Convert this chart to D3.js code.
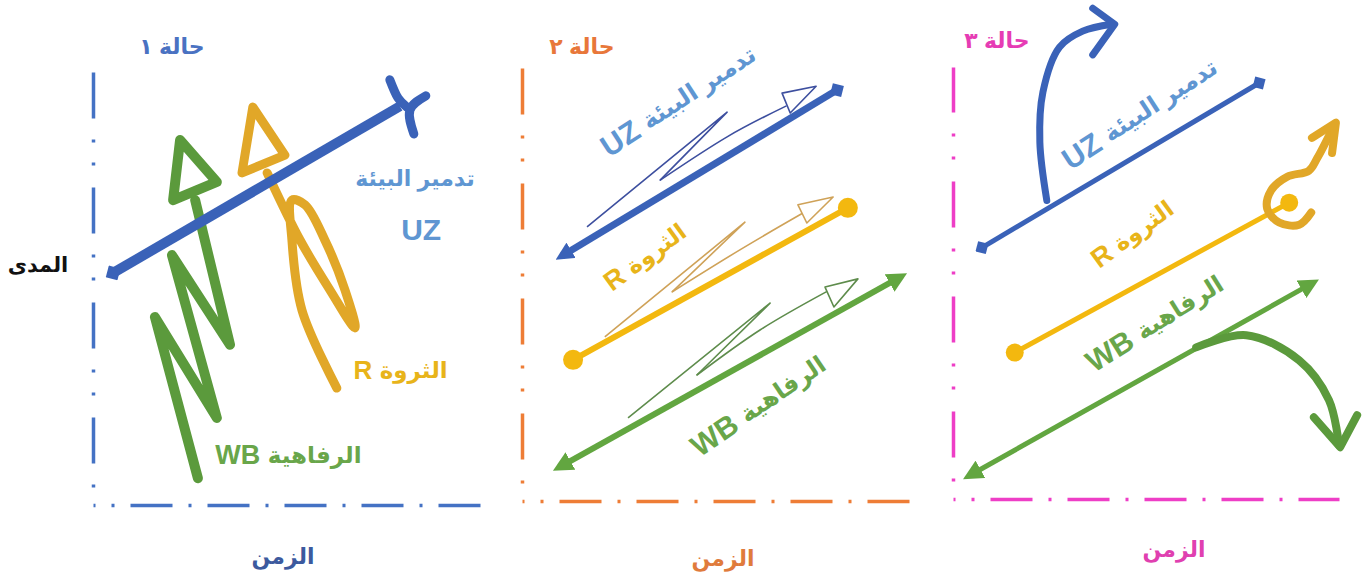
<!DOCTYPE html>
<html>
<head>
<meta charset="utf-8">
<script src="https://cdn.jsdelivr.net/npm/d3@7"></script>
<style>
  body { margin: 0; background: #fff; }
  svg { display: block; }
  text { font-family: "Liberation Sans", "DejaVu Sans", sans-serif; font-weight: bold; }
</style>
</head>
<body>
<div id="chart"></div>
<script>
const W = 1370, H = 578;

// ---- text ----
const panelTitles = ["حالة ١", "حالة ٢", "حالة ٣"];
const yAxisName = "المدى";
const xAxisName = "الزمن";
const names = { UZ: "تدمير البيئة", R: "الثروة", WB: "الرفاهية" };

// ---- data, in panel units (time 0-100 across, extent 0-100 up) ----
// case 1: erratic paths
const c1UZ = [[5.2, 53.6], [79.3, 92.1]];
const c1UZFork = [[[76.7, 98.2], [78.8, 94.0], [81.1, 91.9]], [[86.0, 94.5], [81.9, 91.2], [82.9, 85.7]]];
const c1WB = [[27.1, 6.2], [16.0, 43.4], [32.0, 20.1], [20.4, 57.7], [35.4, 37.0], [26.4, 70.4]];
const c1WBHead = [[22.5, 84.3], [20.7, 70.4], [32.0, 74.6]];
const c1R = [[63.0, 27.0], [54.0, 45.0], [51.4, 61.2], [51.4, 70.4], [54.8, 69.3], [59.9, 61.2],
             [65.1, 49.7], [67.7, 40.9], [61.2, 49.7], [53.5, 61.2], [45.0, 76.7]];
const c1RHead = [[41.3, 91.9], [38.5, 76.7], [49.6, 80.8]];

// case 2: straight trends with a wavering path along each
const c2UZ = [[10.3, 56.6], [81.4, 94.9]];
const c2UZZig = [[16.8, 63.3], [53.0, 89.8], [35.7, 74.1]];
const c2UZSwing = [[35.7, 74.1], [53.0, 84.1], [68.2, 91.2]];
const c2UZHead = [[67.2, 94.2], [76.0, 95.8], [69.3, 89.6]];
const c2R = [[13.2, 32.6], [84.2, 67.7]];
const c2RZig = [[21.4, 37.9], [57.6, 64.4], [38.8, 48.3]];
const c2RSwing = [[38.8, 48.3], [56.3, 58.0], [72.6, 66.5]];
const c2RHead = [[71.3, 68.4], [80.4, 70.2], [73.6, 64.2]];
const c2WB = [[9.8, 7.9], [97.7, 51.7]];
const c2WBZig = [[27.4, 19.2], [64.1, 45.7], [45.2, 29.1]];
const c2WBSwing = [[45.2, 29.1], [61.5, 39.5], [78.6, 48.3]];
const c2WBHead = [[78.3, 49.4], [86.8, 51.3], [80.6, 44.8]];

// case 3: trends with breaks
const c3UZ = [[7.5, 58.2], [79.3, 96.3]];
const c3UZTurn = [[24.3, 69.1], [22.5, 82.6], [23.3, 94.2], [27.6, 104.6], [33.6, 108.3], [41.1, 109.9]];
const c3UZChevron = [[36.2, 113.6], [41.9, 109.9], [36.2, 102.8]];
const c3R = [[16.0, 33.9], [87.1, 68.6]];
const c3RSwirl = [[92.8, 66.3], [89.7, 63.5], [84.5, 64.0], [81.4, 67.2], [82.4, 71.4], [86.6, 74.6],
                  [92.2, 76.0], [94.3, 78.8], [98.7, 86.4]];
const c3RChevron = [[93.0, 83.6], [99.2, 87.1], [98.2, 80.1]];
const c3WB = [[4.4, 5.5], [93.0, 49.9]];
const c3WBTurn = [[63.0, 35.1], [76.0, 37.9], [89.7, 32.1], [97.4, 22.9], [100.0, 12.5]];
const c3WBChevron = [[93.5, 18.9], [100.3, 12.0], [104.7, 19.4]];

// ---- layout ----
const frames = [
  { x0: 93,  y0: 505, w: 387, h: 433, axis: "#4472c4", title: "#4a72c2", time: "#3c5a9e", titleDx: 79,  timeDx: 190, timeY: 556 },
  { x0: 522, y0: 501, w: 387, h: 433, axis: "#ee7d36", title: "#e8773a", time: "#e07b3c", titleDx: 60,  timeDx: 201, timeY: 558 },
  { x0: 953, y0: 499, w: 386, h: 432, axis: "#ee3ec6", title: "#e63cb4", time: "#e040b0", titleDx: 44,  timeDx: 221, timeY: 549 }
];
const C = {
  blue: "#3a62b8", blueThin: "#3d4f9f", blueText: "#5f96d2",
  gold: "#e1a728", yellow: "#f3b80f", goldThin: "#cfa258", goldText: "#e8b41a",
  green: "#5b9a3c", green2: "#62a640", greenThin: "#5e8c4c", greenText: "#69a64a"
};

const svg = d3.select("#chart").append("svg").attr("width", W).attr("height", H);
const defs = svg.append("defs");

function marker(id, shape, color, size) {
  const m = defs.append("marker").attr("id", id)
    .attr("viewBox", "0 0 10 10")
    .attr("refX", shape === "arrow" ? 6 : 5).attr("refY", 5)
    .attr("markerWidth", size).attr("markerHeight", size)
    .attr("markerUnits", "userSpaceOnUse")
    .attr("orient", "auto-start-reverse");
  m.append("path")
    .attr("d", shape === "arrow" ? "M0,0L10,5L0,10z" : "M0,5L5,0L10,5L5,10z")
    .attr("fill", color);
}
marker("dia1", "diamond", C.blue, 17);
marker("arr2b", "arrow", C.blue, 18);
marker("dia2b", "diamond", C.blue, 16);
marker("arr2g", "arrow", C.green2, 20);
marker("dia3b", "diamond", C.blue, 15);
marker("arr3g", "arrow", C.green2, 20);

const scales = frames.map(f => ({
  x: d3.scaleLinear().domain([0, 100]).range([f.x0, f.x0 + f.w]),
  y: d3.scaleLinear().domain([0, 100]).range([f.y0, f.y0 - f.h])
}));

function draw(g, s, pts, o) {
  const gen = d3.line().x(d => s.x(d[0])).y(d => s.y(d[1]));
  if (o.curve) gen.curve(o.curve);
  return g.append("path").datum(pts)
    .attr("d", gen)
    .attr("fill", o.fill || "none")
    .attr("stroke", o.color)
    .attr("stroke-width", o.width)
    .attr("stroke-linecap", o.cap || "round")
    .attr("stroke-linejoin", "round")
    .attr("marker-start", o.start ? `url(#${o.start})` : null)
    .attr("marker-end", o.end ? `url(#${o.end})` : null);
}

function label(g, s, pos, parts, o) {
  const t = g.append("text")
    .attr("transform", `translate(${s.x(pos[0])},${s.y(pos[1])}) rotate(${o.rot || 0})`)
    .attr("text-anchor", "middle")
    .attr("dominant-baseline", "central")
    .attr("direction", "rtl")
    .attr("fill", o.color);
  parts.forEach(p => t.append("tspan").attr("font-size", p[1]).text(p[0]));
}

// ---- frames: axes and titles ----
frames.forEach((f, i) => {
  const s = scales[i];
  const g = svg.append("g");
  g.append("g").attr("transform", `translate(0,${f.y0})`)
    .call(d3.axisBottom(s.x).tickValues([]).tickSizeOuter(0))
    .call(a => a.select(".domain").attr("stroke", f.axis).attr("stroke-width", 3.5)
      .attr("stroke-dasharray", "3,16,42,16").attr("stroke-dashoffset", 59));
  g.append("g").attr("transform", `translate(${f.x0},0)`)
    .call(d3.axisLeft(s.y).tickValues([]).tickSizeOuter(0))
    .call(a => a.select(".domain").attr("stroke", f.axis).attr("stroke-width", 3.5)
      .attr("stroke-dasharray", "3,20,3,21,46,22").attr("stroke-dashoffset", 5));
  g.append("text").attr("x", f.x0 + f.titleDx).attr("y", i === 2 ? 40 : 46)
    .attr("text-anchor", "middle").attr("dominant-baseline", "central")
    .attr("direction", "rtl").attr("font-size", 22).attr("fill", f.title)
    .text(panelTitles[i]);
  g.append("text").attr("x", f.x0 + f.timeDx).attr("y", f.timeY)
    .attr("text-anchor", "middle").attr("dominant-baseline", "central")
    .attr("direction", "rtl").attr("font-size", 22).attr("fill", f.time)
    .text(xAxisName);
});
svg.append("text").attr("x", 38).attr("y", 264)
  .attr("text-anchor", "middle").attr("dominant-baseline", "central")
  .attr("direction", "rtl").attr("font-size", 21).attr("fill", "#111")
  .text(yAxisName);

// ---- case 1 ----
{
  const s = scales[0], g = svg.append("g");
  draw(g, s, c1WB, { color: C.green, width: 10 });
  draw(g, s, c1WBHead, { color: C.green, width: 10, curve: d3.curveLinearClosed });
  draw(g, s, c1R, { color: C.gold, width: 9, curve: d3.curveCatmullRom.alpha(0.5) });
  draw(g, s, c1RHead, { color: C.gold, width: 9, curve: d3.curveLinearClosed });
  draw(g, s, c1UZ, { color: C.blue, width: 10, cap: "butt", start: "dia1" });
  c1UZFork.forEach(p => draw(g, s, p, { color: C.blue, width: 9, curve: d3.curveNatural }));
  label(g, s, [83.2, 75.6], [[names.UZ, 22]], { color: C.blueText });
  label(g, s, [84.8, 63.8], [["UZ", 30]], { color: C.blueText });
  label(g, s, [79.5, 31.2], [[names.R, 23], [" R", 26]], { color: C.goldText });
  label(g, s, [50.5, 11.6], [[names.WB, 23], [" WB", 27]], { color: C.greenText });
}

// ---- case 2 ----
{
  const s = scales[1], g = svg.append("g");
  [[c2UZZig, c2UZSwing, c2UZHead, C.blueThin], [c2RZig, c2RSwing, c2RHead, C.goldThin],
   [c2WBZig, c2WBSwing, c2WBHead, C.greenThin]].forEach(([z, sw, hd, col]) => {
    draw(g, s, z, { color: col, width: 1.6, cap: "butt" });
    draw(g, s, sw, { color: col, width: 1.6, curve: d3.curveNatural });
    draw(g, s, hd, { color: col, width: 1.6, fill: "#fff", curve: d3.curveLinearClosed });
  });
  draw(g, s, c2UZ, { color: C.blue, width: 7, cap: "butt", start: "arr2b", end: "dia2b" });
  draw(g, s, c2R, { color: C.yellow, width: 6, cap: "butt" });
  g.selectAll(".c2dot").data(c2R).join("circle")
    .attr("cx", d => s.x(d[0])).attr("cy", d => s.y(d[1])).attr("r", 10).attr("fill", C.yellow);
  draw(g, s, c2WB, { color: C.green2, width: 6, cap: "butt", start: "arr2g", end: "arr2g" });
  label(g, s, [40.3, 92.6], [[names.UZ, 24], [" UZ", 30]], { color: C.blueText, rot: -33 });
  label(g, s, [31.8, 56.4], [[names.R, 23], [" R", 27]], { color: C.goldText, rot: -36 });
  label(g, s, [61.0, 22.2], [[names.WB, 24], [" WB", 30]], { color: C.greenText, rot: -34 });
}

// ---- case 3 ----
{
  const s = scales[2], g = svg.append("g");
  draw(g, s, c3UZ, { color: C.blue, width: 5, cap: "butt", start: "dia3b", end: "dia3b" });
  draw(g, s, c3UZTurn, { color: C.blue, width: 7, curve: d3.curveCatmullRom.alpha(0.5) });
  draw(g, s, c3UZChevron, { color: C.blue, width: 7 });
  draw(g, s, c3R, { color: C.yellow, width: 5, cap: "butt" });
  g.selectAll(".c3dot").data(c3R).join("circle")
    .attr("cx", d => s.x(d[0])).attr("cy", d => s.y(d[1])).attr("r", 9).attr("fill", C.yellow);
  draw(g, s, c3RSwirl, { color: C.gold, width: 8, curve: d3.curveCatmullRom.alpha(0.5) });
  draw(g, s, c3RChevron, { color: C.gold, width: 8 });
  draw(g, s, c3WB, { color: C.green2, width: 5, cap: "butt", start: "arr3g", end: "arr3g" });
  draw(g, s, c3WBTurn, { color: C.green, width: 8, curve: d3.curveCatmullRom.alpha(0.5) });
  draw(g, s, c3WBChevron, { color: C.green, width: 8 });
  label(g, s, [48.3, 89.4], [[names.UZ, 24], [" UZ", 30]], { color: C.blueText, rot: -33 });
  label(g, s, [46.5, 61.4], [[names.R, 23], [" R", 27]], { color: C.goldText, rot: -36 });
  label(g, s, [52.2, 40.9], [[names.WB, 24], [" WB", 30]], { color: C.greenText, rot: -32 });
}
</script>
</body>
</html>
